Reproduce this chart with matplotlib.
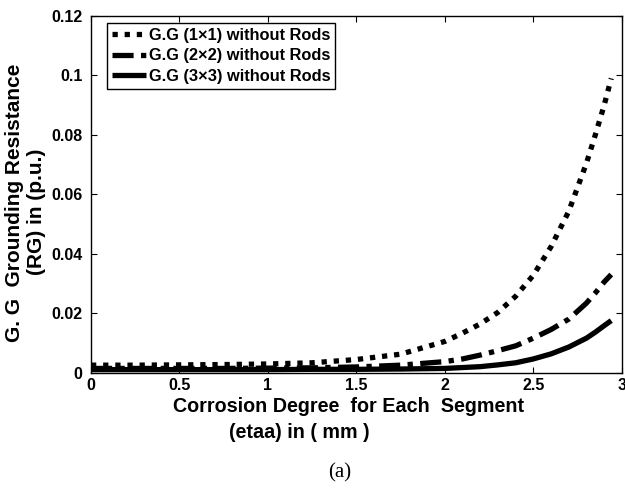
import matplotlib.pyplot as plt
import numpy as np

# values
x = [0, 0.25, 0.5, 0.75, 1.0, 1.25, 1.5, 1.75, 2.0, 2.1, 2.2, 2.3, 2.4,
     2.5, 2.6, 2.7, 2.8, 2.85, 2.9, 2.94]
rg_1x1 = [0.0025, 0.0025, 0.0026, 0.0027, 0.0029, 0.0033, 0.0044, 0.0062,
          0.0105, 0.0133, 0.0164, 0.0203, 0.0257, 0.0328, 0.0424, 0.0543,
          0.0705, 0.0800, 0.0900, 0.0990]
rg_2x2 = [0.0014, 0.0014, 0.0014, 0.0014, 0.0015, 0.0016, 0.0019, 0.0025,
          0.0037, 0.0046, 0.0059, 0.0074, 0.0090, 0.0116, 0.0145, 0.0180,
          0.0234, 0.0268, 0.0305, 0.0330]
rg_3x3 = [0.0010, 0.0010, 0.0010, 0.0010, 0.0010, 0.0011, 0.0011, 0.0012,
          0.0014, 0.0017, 0.0020, 0.0026, 0.0033, 0.0046, 0.0063, 0.0086,
          0.0116, 0.0136, 0.0158, 0.0175]
labels = ['G.G (1\u00d71) without Rods', 'G.G (2\u00d72) without Rods',
          'G.G (3\u00d73) without Rods']

bold = {'family': 'Liberation Sans', 'weight': 'bold'}

fig = plt.figure(figsize=(6.25, 4.92), dpi=100)
ax = fig.add_axes([0.1456, 0.2427, 0.8494, 0.7248])

lw = 3.8
ax.plot(x, rg_1x1, color='k', lw=lw, dashes=(1.0, 1.3), dash_capstyle='butt',
        label=labels[0])
ax.plot(x, rg_2x2, color='k', lw=lw, dashes=(4.0, 1.4, 1.0, 1.4),
        dash_capstyle='butt', label=labels[1])
ax.plot(x, rg_3x3, color='k', lw=lw, solid_capstyle='butt', label=labels[2])

ax.set_xlim(0, 3)
ax.set_ylim(0, 0.12)
ax.set_xticks(np.arange(0, 3.01, 0.5))
ax.set_xticklabels(['0', '0.5', '1', '1.5', '2', '2.5', '3'])
ax.set_yticks(np.arange(0, 0.121, 0.02))
ax.set_yticklabels(['0', '0.02', '0.04', '0.06', '0.08', '0.1', '0.12'])
ax.tick_params(axis='both', direction='in', top=True, right=True, length=4,
               width=0.8)
ax.tick_params(axis='y', pad=6)
ax.tick_params(axis='x', pad=4)
for lab in ax.get_xticklabels() + ax.get_yticklabels():
    lab.set_fontfamily('Liberation Sans')
    lab.set_fontweight('bold')
    lab.set_fontsize(11.5)
for s in ax.spines.values():
    s.set_linewidth(1.0)

leg = ax.legend(loc='upper left', bbox_to_anchor=(0.03, 0.981),
                prop={'family': 'Liberation Sans', 'weight': 'bold', 'size': 11.8},
                handlelength=2.1, handletextpad=0.15, labelspacing=0.35,
                borderpad=0.3, borderaxespad=0, fancybox=False,
                edgecolor='k', framealpha=1)
leg.get_frame().set_linewidth(1.0)

fig.text(0.024, 1 - 203 / 492, 'G. G  Grounding Resistance', rotation=90,
         ha='center', va='center', fontsize=15, **bold)
fig.text(0.058, 1 - 212 / 492, '(RG) in (p.u.)', rotation=90,
         ha='center', va='center', fontsize=15, **bold)

fig.text(349 / 625, 1 - 407 / 492, 'Corrosion Degree  for Each  Segment',
         ha='center', va='center', fontsize=14.2, **bold)
fig.text(299 / 625, 1 - 432 / 492, '(etaa) in ( mm )',
         ha='center', va='center', fontsize=14.2, **bold)
fig.text(340 / 625, 1 - 473 / 492, '(a)', ha='center', va='center',
         fontsize=15, family='Liberation Serif')

fig.savefig('out.png', dpi=100)
